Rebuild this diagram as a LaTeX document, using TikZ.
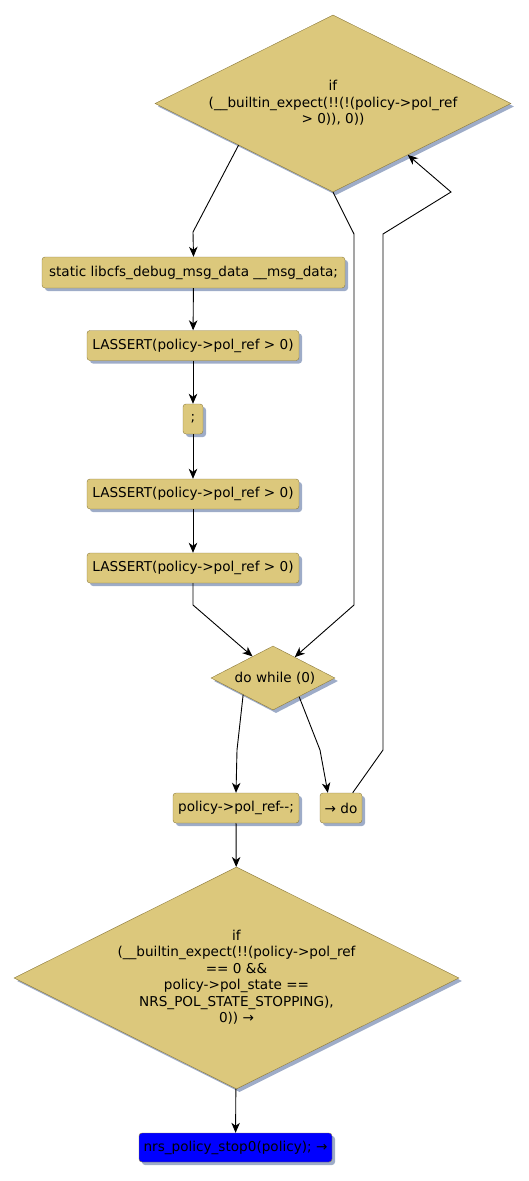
\documentclass[tikz,border=0pt]{standalone}
\usepackage{fontspec}
\setmainfont{DejaVu Sans}
\usetikzlibrary{shapes.geometric,shadows,arrows.meta,calc}
\definecolor{nodefill}{RGB}{220,200,124}
\definecolor{nodeline}{RGB}{140,122,60}
\definecolor{shadowc}{RGB}{158,172,200}
\definecolor{bluefill}{RGB}{0,0,255}
\begin{document}
\begin{tikzpicture}[x=1pt,y=-1pt,
  font=\fontsize{13.6}{16.5}\selectfont,
  shad/.style={drop shadow={shadow xshift=3pt,shadow yshift=-3pt,fill=shadowc,opacity=1}},
  box/.style={draw=nodeline,fill=nodefill,rounded corners=3pt,inner sep=0pt,minimum height=30pt,shad},
  dia/.style={diamond,draw=nodeline,fill=nodefill,inner sep=0pt,shad},
  txt/.style={align=center,inner sep=0pt},
  arr/.style={draw,line width=0.9pt,-{Stealth[length=10pt,width=8.5pt,inset=3pt]}}]
\useasboundingbox (0,0) rectangle (529,1181);

% diamonds
\node[dia,minimum width=356pt,minimum height=177pt] (d1) at (333,103.5) {};
\node[txt] (d1t) at (333,103) {if\\(\_\_builtin\_expect(!!(!(policy->pol\_ref\\> 0)), 0))};
\node[dia,minimum width=124pt,minimum height=64pt] (d2) at (273,678) {};
\node[txt] (d2t) at (275,678) {do while (0)};
\node[dia,minimum width=445pt,minimum height=222pt] (d3) at (236.5,978) {};
\node[txt] (d3t) at (236.5,977) {if\\(\_\_builtin\_expect(!!(policy->pol\_ref\\== 0 \&\&\\policy->pol\_state ==\\NRS\_POL\_STATE\_STOPPING),\\0)) →};

% boxes
\node[box,minimum width=303pt,minimum height=31pt] (b1) at (193.5,272.5) {static libcfs\_debug\_msg\_data \_\_msg\_data;};
\node[box,minimum width=212pt] (b2) at (193,345.5) {LASSERT(policy->pol\_ref > 0)};
\node[box,minimum width=20pt] (b3) at (193,419) {;};
\node[box,minimum width=212pt] (b4) at (193,494) {LASSERT(policy->pol\_ref > 0)};
\node[box,minimum width=212pt] (b5) at (193,568) {LASSERT(policy->pol\_ref > 0)};
\node[box,minimum width=126pt] (b6) at (236,808) {policy->pol\_ref-{}-;};
\node[box,minimum width=42pt] (b7) at (341,808) {→ do};
\node[box,fill=bluefill,minimum width=193pt,minimum height=29pt] (b8) at (235.5,1147.5) {nrs\_policy\_stop0(policy); →};

% bend points
\coordinate (p1) at (193,232);
\coordinate (p2) at (354,234);
\coordinate (p3) at (354,605);
\coordinate (p4) at (193,605);
\coordinate (p5) at (237,750);
\coordinate (p6) at (320,750);
\coordinate (p7) at (383,750);
\coordinate (p8) at (383,234);
\coordinate (p9) at (451,192);

% connectors
\draw[arr] ($(d1.west)!0.47!(d1.south)$) -- (p1) -- (b1.north);
\draw[arr] (d1.south) -- (p2) -- (p3) -- ($(d2.north)!0.35!(d2.east)$);
\draw[arr] (b1) -- (b2);
\draw[arr] (b2) -- (b3);
\draw[arr] (b3) -- (b4);
\draw[arr] (b4) -- (b5);
\draw[arr] (b5.south) -- (p4) -- ($(d2.north)!0.33!(d2.west)$);
\draw[arr] ($(d2.west)!0.52!(d2.south)$) -- (p5) -- (b6.north);
\draw[arr] ($(d2.east)!0.58!(d2.south)$) -- (p6) -- ($(b7.north west)!0.19!(b7.north east)$);
\draw[arr] ($(b7.north)!0.55!(b7.north east)$) -- (p7) -- (p8) -- (p9) -- ($(d1.south)!0.42!(d1.east)$);
\draw[arr] (b6) -- (d3);
\draw[arr] (d3) -- (b8);
\end{tikzpicture}
\end{document}
